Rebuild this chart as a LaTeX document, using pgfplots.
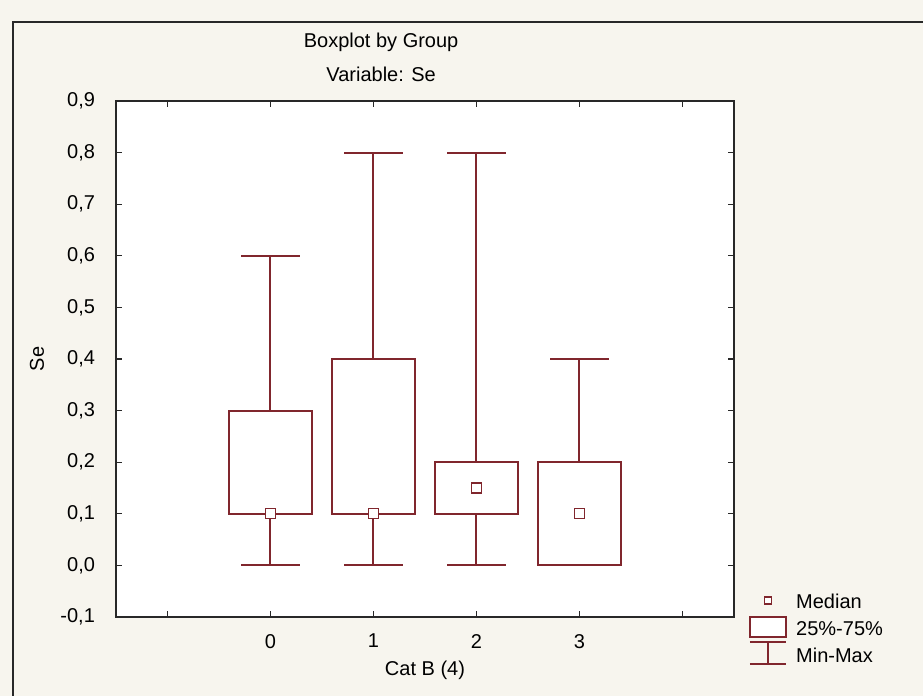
\documentclass[border=0pt]{standalone}
\usepackage{fontspec}
\setmainfont{Liberation Sans}
\usepackage{pgfplots}
\pgfplotsset{compat=1.18}
\usepgfplotslibrary{statistics}

\definecolor{boxred}{RGB}{128,38,45}
\definecolor{bgcream}{RGB}{247,245,238}
\definecolor{framegray}{RGB}{40,40,40}

\begin{document}
\fontsize{10}{12}\selectfont
\begin{tikzpicture}
\useasboundingbox (-58pt,-39.5pt) rectangle (403.5pt,308.5pt);
\fill[bgcream] (-58pt,-39.5pt) rectangle (403.5pt,308.5pt);
\draw[framegray, line width=1pt] (-51.5pt,-42pt) -- (-51.5pt,297.5pt) -- (406pt,297.5pt);
\begin{axis}[
    at={(0,0)}, anchor=south west,
    scale only axis, width=309pt, height=258pt,
    clip=false,
    axis background/.style={fill=white},
    xmin=-1.5, xmax=4.5, ymin=-0.1, ymax=0.9,
    xtick={-1,0,1,2,3,4}, xticklabels={,0,1,2,3,},
    ytick={-0.1,0,0.1,0.2,0.3,0.4,0.5,0.6,0.7,0.8,0.9},
    yticklabel style={xshift=-7pt, /pgf/number format/.cd, fixed, fixed zerofill, precision=1, use comma, assume math mode=true},
    xticklabel style={yshift=-5pt},
    tick align=inside, major tick length=3pt,
    axis line style={framegray, line width=0.8pt},
    tick style={framegray, line width=0.6pt},
    xlabel={Cat B (4)},
    xlabel style={at={(axis description cs:0.5,-0.103)}, anchor=center},
    ylabel={Se},
    ylabel style={at={(axis description cs:-0.128,0.5)}, anchor=center},
    boxplot/draw direction=y,
    boxplot/every box/.style={draw=boxred, line width=1pt},
    boxplot/every whisker/.style={draw=boxred, line width=1pt},
    boxplot/draw/median/.code={
        \node[draw=boxred, fill=white, line width=0.7pt, minimum size=5pt, inner sep=0pt]
            at (boxplot box cs:\pgfplotsboxplotvalue{median},0.5) {};
    },
    legend style={draw=none, fill=none, inner sep=0pt,
        at={(axis description cs:1.034,0.055)}, anchor=north west,
        cells={anchor=west}, row sep=0pt,
        nodes={text height=7.5pt, text depth=2pt, inner ysep=2pt}},
]
% legend
\addlegendimage{legend image code/.code={
    \draw[overlay, boxred, line width=0.7pt, fill=white] (4.25pt,-0.75pt) rectangle (7.75pt,2.75pt);
    \path (0pt,0pt) (18pt,0pt);}}
\addlegendentry{Median}
\addlegendimage{legend image code/.code={
    \draw[overlay, boxred, line width=1pt, fill=white] (-3pt,-3.5pt) rectangle (15pt,6.5pt);
    \path (0pt,0pt) (18pt,0pt);}}
\addlegendentry{25\%-75\%}
\addlegendimage{legend image code/.code={
    \draw[overlay, boxred, line width=1pt] (-3pt,7.5pt) -- (15pt,7.5pt) (6pt,7.5pt) -- (6pt,-3.5pt) (-3pt,-3.5pt) -- (15pt,-3.5pt);
    \path (0pt,0pt) (18pt,0pt);}}
\addlegendentry{Min-Max}

% min, q1, median, q3, max per group
\addplot[boxred, line width=1pt, boxplot prepared={draw position=0,
    lower whisker=0, lower quartile=0.1, median=0.1, upper quartile=0.3, upper whisker=0.6,
    box extend=0.81, whisker extend=0.57}] coordinates {};
\addplot[boxred, line width=1pt, boxplot prepared={draw position=1,
    lower whisker=0, lower quartile=0.1, median=0.1, upper quartile=0.4, upper whisker=0.8,
    box extend=0.81, whisker extend=0.57}] coordinates {};
\addplot[boxred, line width=1pt, boxplot prepared={draw position=2,
    lower whisker=0, lower quartile=0.1, median=0.15, upper quartile=0.2, upper whisker=0.8,
    box extend=0.81, whisker extend=0.57}] coordinates {};
\addplot[boxred, line width=1pt, boxplot prepared={draw position=3,
    lower whisker=0, lower quartile=0, median=0.1, upper quartile=0.2, upper whisker=0.4,
    box extend=0.81, whisker extend=0.57}] coordinates {};

\node at (axis description cs:0.429,1.114) {Boxplot by Group};
\node at (axis description cs:0.429,1.052) {Variable: Se};
\end{axis}
\end{tikzpicture}
\end{document}
